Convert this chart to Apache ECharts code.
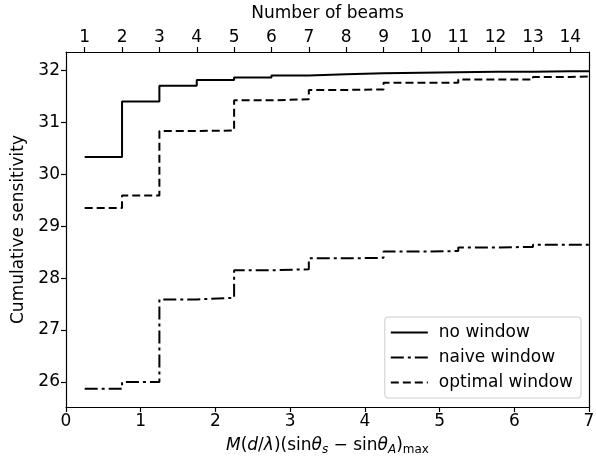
<!DOCTYPE html>
<html>
<head>
    <meta charset="UTF-8">
    <title></title>
    <script type="text/javascript" src="https://cdn.jsdelivr.net/npm/echarts@6/dist/echarts.min.js"></script>
    <style type="text/css">
        body { margin: 0; background: #fff; }
        #main { width: 596px; height: 461px; }
    </style>
</head>
<body>
<div id="main"></div>
<script type="text/javascript">
    // beam count (top axis) and cumulative sensitivity per beam
    var beams = [1, 2, 3, 4, 5, 6, 7, 8, 9, 10, 11, 12, 13, 14];
    var noWindow = [30.33, 31.40, 31.70, 31.81, 31.86, 31.90, 31.92, 31.94, 31.95, 31.96, 31.97, 31.97, 31.98, 31.98];
    var naiveWindow = [25.87, 26.00, 27.59, 27.62, 28.15, 28.17, 28.38, 28.39, 28.51, 28.52, 28.59, 28.60, 28.64, 28.64];
    var optimalWindow = [29.35, 29.59, 30.83, 30.84, 31.42, 31.44, 31.62, 31.63, 31.76, 31.76, 31.82, 31.82, 31.87, 31.88];
    var yTicks = [26, 27, 28, 29, 30, 31, 32];

    var font = 'DejaVu Sans';
    var fs = 17;
    var beamMax = 14.5;

    function steps(vals) {
        var pts = [];
        for (var i = 0; i < beams.length; i++) {
            pts.push([beams[i], vals[i]]);
        }
        pts.push([beamMax, vals[vals.length - 1]]);
        return pts;
    }

    var chart = echarts.init(document.getElementById('main'));
    var txt = {color: '#000', fontFamily: font, fontSize: fs};
    var axisLine = {lineStyle: {color: '#000', width: 1.2}};
    var tickStyle = {color: '#000', width: 1.2};

    chart.setOption({
        animation: false,
        textStyle: {fontFamily: font},
        grid: {left: 66, right: 7, top: 52, bottom: 54, outerBoundsMode: 'none'},
        legend: {
            orient: 'vertical',
            right: 15,
            bottom: 63,
            itemWidth: 37,
            itemHeight: 14,
            itemGap: 8,
            padding: [7, 8, 7, 5],
            borderColor: '#ccc',
            borderWidth: 1,
            borderRadius: 3,
            itemStyle: {opacity: 0},
            textStyle: {color: '#000', fontFamily: font, fontSize: fs, padding: [0, 0, 0, 6]},
            data: ['no window', 'naive window', 'optimal window']
        },
        xAxis: [{
            type: 'value',
            min: 0,
            max: 7,
            interval: 1,
            position: 'bottom',
            name: '{i|M}({i|d}/{i|λ})(sin{i|θ}{si|s} − sin{i|θ}{si|A}){sub|max}',
            nameLocation: 'middle',
            nameGap: 28,
            nameTextStyle: {
                color: '#000', fontFamily: font, fontSize: fs,
                rich: {
                    i: {fontStyle: 'italic', fontFamily: font, fontSize: fs, color: '#000'},
                    si: {fontStyle: 'italic', fontFamily: font, fontSize: 12, color: '#000', padding: [9, 0, 0, 0]},
                    sub: {fontFamily: font, fontSize: 12, color: '#000', padding: [9, 0, 0, 0]}
                }
            },
            axisLine: axisLine,
            axisTick: {length: 5, lineStyle: tickStyle},
            axisLabel: {color: '#000', fontFamily: font, fontSize: fs, margin: 6},
            splitLine: {show: false}
        }, {
            type: 'value',
            min: 0.5,
            max: beamMax,
            position: 'top',
            name: 'Number of beams',
            nameLocation: 'middle',
            nameGap: 30,
            nameTextStyle: txt,
            axisLine: axisLine,
            axisTick: {length: 5, customValues: beams, lineStyle: tickStyle},
            axisLabel: {color: '#000', fontFamily: font, fontSize: fs, margin: 6, customValues: beams},
            splitLine: {show: false}
        }],
        yAxis: [{
            type: 'value',
            min: 25.52,
            max: 32.35,
            name: 'Cumulative sensitivity',
            nameLocation: 'middle',
            nameGap: 38,
            nameTextStyle: txt,
            axisLine: {show: true, lineStyle: {color: '#000', width: 1.2}},
            axisTick: {show: true, length: 5, customValues: yTicks, lineStyle: tickStyle},
            axisLabel: {color: '#000', fontFamily: font, fontSize: fs, margin: 6, customValues: yTicks},
            splitLine: {show: false}
        }, {
            type: 'value',
            min: 25.52,
            max: 32.35,
            position: 'right',
            axisLine: {show: true, lineStyle: {color: '#000', width: 1.2}},
            axisTick: {show: false},
            axisLabel: {show: false},
            splitLine: {show: false}
        }],
        series: [{
            name: 'no window',
            type: 'line',
            xAxisIndex: 1,
            step: 'end',
            symbol: 'none',
            color: '#000',
            lineStyle: {color: '#000', width: 2},
            data: steps(noWindow)
        }, {
            name: 'naive window',
            type: 'line',
            xAxisIndex: 1,
            step: 'end',
            symbol: 'none',
            color: '#000',
            lineStyle: {color: '#000', width: 2, type: [13, 4, 3, 4]},
            data: steps(naiveWindow)
        }, {
            name: 'optimal window',
            type: 'line',
            xAxisIndex: 1,
            step: 'end',
            symbol: 'none',
            color: '#000',
            lineStyle: {color: '#000', width: 2, type: [8, 4]},
            data: steps(optimalWindow)
        }]
    });
</script>
</body>
</html>
